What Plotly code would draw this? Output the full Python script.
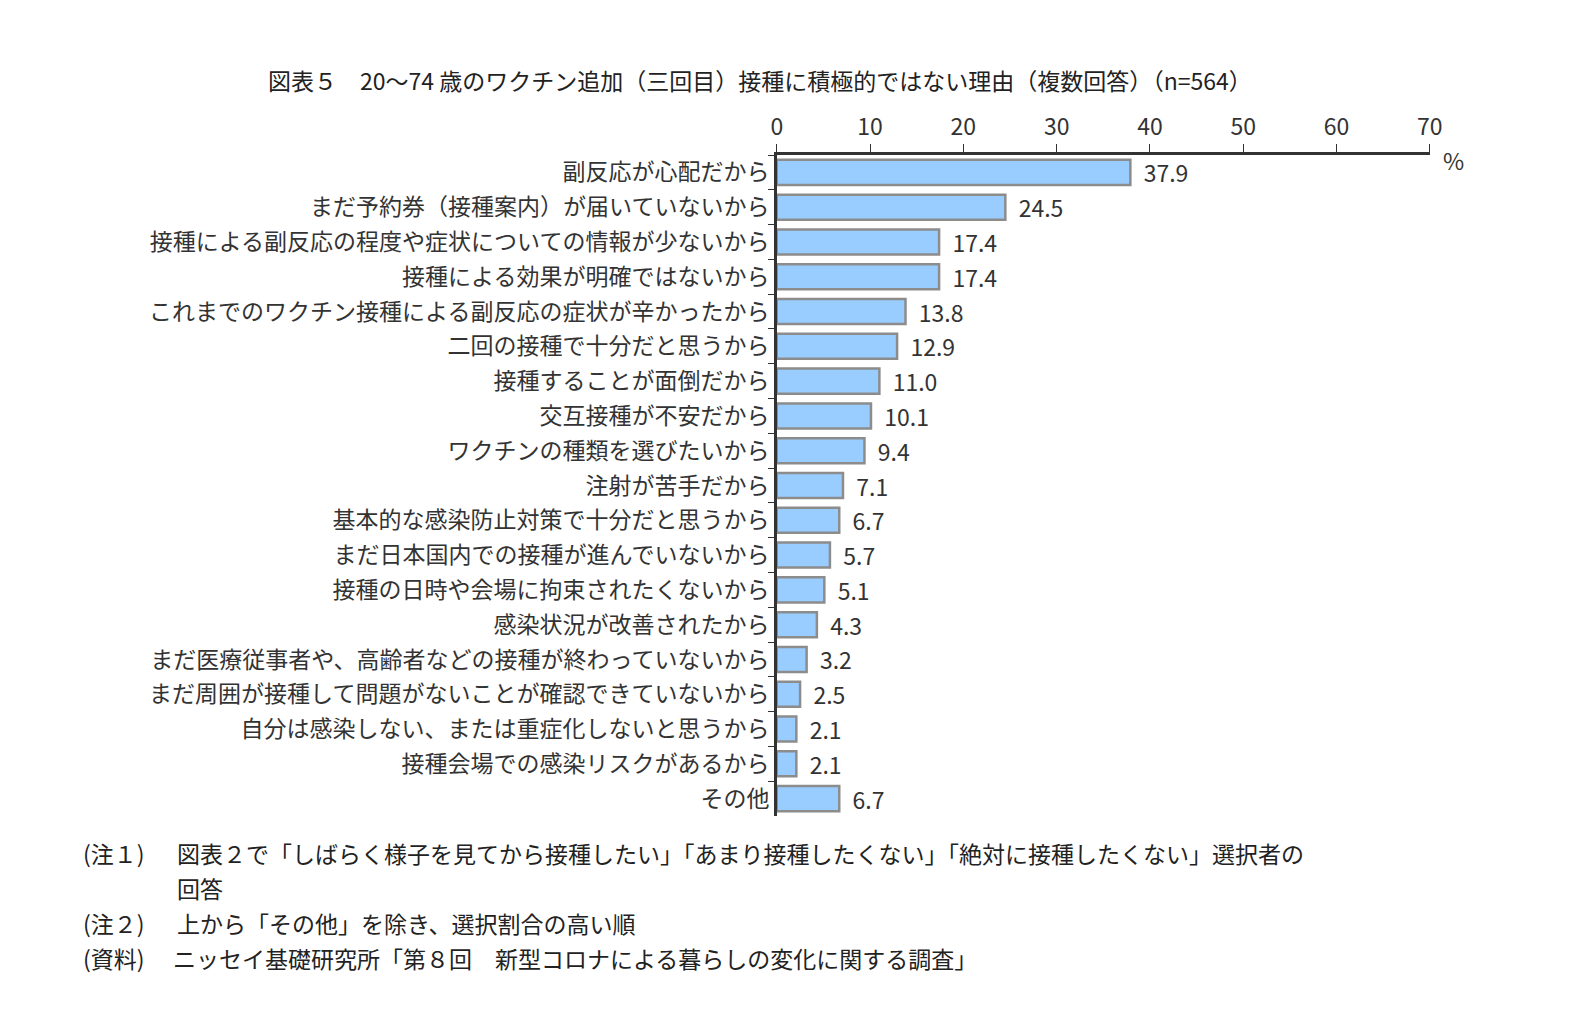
import plotly.graph_objects as go

reasons = [
    "副反応が心配だから",
    "まだ予約券（接種案内）が届いていないから",
    "接種による副反応の程度や症状についての情報が少ないから",
    "接種による効果が明確ではないから",
    "これまでのワクチン接種による副反応の症状が辛かったから",
    "二回の接種で十分だと思うから",
    "接種することが面倒だから",
    "交互接種が不安だから",
    "ワクチンの種類を選びたいから",
    "注射が苦手だから",
    "基本的な感染防止対策で十分だと思うから",
    "まだ日本国内での接種が進んでいないから",
    "接種の日時や会場に拘束されたくないから",
    "感染状況が改善されたから",
    "まだ医療従事者や、高齢者などの接種が終わっていないから",
    "まだ周囲が接種して問題がないことが確認できていないから",
    "自分は感染しない、または重症化しないと思うから",
    "接種会場での感染リスクがあるから",
    "その他",
]
values = [37.9, 24.5, 17.4, 17.4, 13.8, 12.9, 11.0, 10.1, 9.4, 7.1, 6.7, 5.7, 5.1, 4.3, 3.2, 2.5, 2.1, 2.1, 6.7]
x_ticks = [0, 10, 20, 30, 40, 50, 60, 70]

FONT = "Noto Sans CJK JP"
FS = 23

fig = go.Figure()
fig.add_trace(go.Bar(
    x=values, y=reasons, orientation="h",
    marker=dict(color="#99CCFF", line=dict(color="#8C8C8C", width=2.5)),
    width=0.72,
    text=[f"  {v:.1f}" for v in values], textposition="outside",
    textfont=dict(size=FS, color="#333333", family=FONT),
    constraintext="none",
    cliponaxis=False,
))

def py(px):
    return (808 - px) / 661

notes = [
    (0.043, 845, "(注１)"),
    (0.103, 845, "図表２で「しばらく様子を見てから接種したい」「あまり接種したくない」「絶対に接種したくない」選択者の"),
    (0.103, 880, "回答"),
    (0.043, 915, "(注２)"),
    (0.103, 915, "上から「その他」を除き、選択割合の高い順"),
    (0.043, 950, "(資料)"),
    (0.100, 950, "ニッセイ基礎研究所「第８回　新型コロナによる暮らしの変化に関する調査」"),
]
anns = [dict(x=x, y=py(p), xref="paper", yref="paper", text=t, showarrow=False,
             xanchor="left", yanchor="middle", font=dict(size=FS, color="#222", family=FONT))
        for x, p, t in notes]
anns.append(dict(x=755 / 1586, y=py(53), xref="paper", yref="paper", showarrow=False,
                 text="図表５　20～74 歳のワクチン追加（三回目）接種に積極的ではない理由（複数回答）（n=564）",
                 font=dict(size=FS, color="#222", family=FONT)))
anns.append(dict(x=1470 / 1586, y=py(133), xref="paper", yref="paper", showarrow=False,
                 text="%", font=dict(size=FS, color="#333", family=FONT)))

fig.update_layout(
    width=1586, height=1017,
    margin=dict(l=0, r=0, t=147, b=209),
    plot_bgcolor="white", paper_bgcolor="white",
    showlegend=False,
    font=dict(family=FONT, color="#333"),
    xaxis=dict(domain=[772 / 1586, 1433 / 1586], range=[0, 70], tickvals=x_ticks,
               side="top", showgrid=False, zeroline=False, showline=True,
               linecolor="#333", linewidth=2.5, ticks="outside", ticklen=8, tickcolor="#333",
               tickfont=dict(size=FS, color="#333")),
    yaxis=dict(autorange="reversed", showline=True, linecolor="#333", linewidth=2.5,
               ticks="outside", tickson="boundaries", ticklen=6, tickcolor="#333",
               tickfont=dict(size=FS, color="#333"), showgrid=False),
    annotations=anns,
)

fig.write_html("out.html")
